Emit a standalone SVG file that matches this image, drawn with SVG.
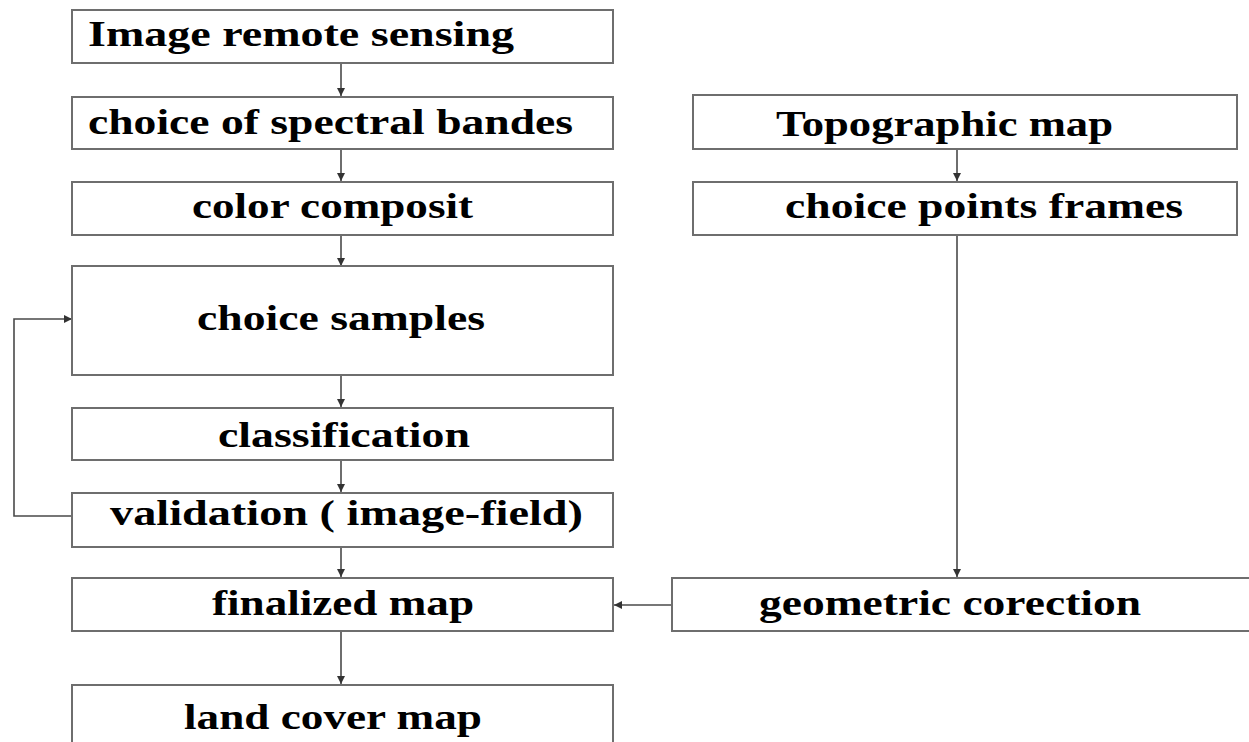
<svg xmlns="http://www.w3.org/2000/svg" width="1249" height="742" viewBox="0 0 1249 742">
<style>
.box{fill:#fff;stroke:#6e6e6e;stroke-width:2}
.t{font-family:"Liberation Serif","DejaVu Serif",serif;font-weight:bold;font-size:35px;fill:#000}
.c{fill:none;stroke:#4a4a4a;stroke-width:1.6}
</style>
<defs>
<marker id="ah" viewBox="0 0 10 10" refX="10" refY="5" markerWidth="8" markerHeight="8" markerUnits="userSpaceOnUse" orient="auto">
<path d="M0,0 L10,5 L0,10 z" fill="#333"/>
</marker>
</defs>
<rect width="1249" height="742" fill="#fff"/>
<g id="connectors">
<line class="c" x1="341" y1="63" x2="341" y2="96" marker-end="url(#ah)"/>
<line class="c" x1="341" y1="149" x2="341" y2="181" marker-end="url(#ah)"/>
<line class="c" x1="341" y1="235" x2="341" y2="266" marker-end="url(#ah)"/>
<line class="c" x1="341" y1="375" x2="341" y2="407" marker-end="url(#ah)"/>
<line class="c" x1="341" y1="460" x2="341" y2="492" marker-end="url(#ah)"/>
<line class="c" x1="341" y1="547" x2="341" y2="577" marker-end="url(#ah)"/>
<line class="c" x1="341" y1="631" x2="341" y2="684" marker-end="url(#ah)"/>
<polyline class="c" points="72,516 14,516 14,319 72,319" marker-end="url(#ah)"/>
<line class="c" x1="957" y1="149" x2="957" y2="181" marker-end="url(#ah)"/>
<line class="c" x1="957" y1="235" x2="957" y2="577" marker-end="url(#ah)"/>
<line class="c" x1="672" y1="605" x2="614" y2="605" marker-end="url(#ah)"/>
</g>
<g id="n1"><rect class="box" x="72" y="10" width="541" height="53"/><text class="t" x="88" y="46" textLength="426" lengthAdjust="spacingAndGlyphs">Image remote  sensing</text></g>
<g id="n2"><rect class="box" x="72" y="97" width="541" height="52"/><text class="t" x="88" y="134" textLength="485" lengthAdjust="spacingAndGlyphs">choice of spectral bandes</text></g>
<g id="n3"><rect class="box" x="72" y="182" width="541" height="53"/><text class="t" x="192" y="218" textLength="281" lengthAdjust="spacingAndGlyphs">color composit</text></g>
<g id="n4"><rect class="box" x="72" y="266" width="541" height="109"/><text class="t" x="197" y="330" textLength="288" lengthAdjust="spacingAndGlyphs">choice samples</text></g>
<g id="n5"><rect class="box" x="72" y="408" width="541" height="52"/><text class="t" x="218" y="447" textLength="252" lengthAdjust="spacingAndGlyphs">classification</text></g>
<g id="n6"><rect class="box" x="72" y="493" width="541" height="54"/><text class="t" x="110" y="525" textLength="473" lengthAdjust="spacingAndGlyphs">validation ( image-field)</text></g>
<g id="n7"><rect class="box" x="72" y="578" width="541" height="53"/><text class="t" x="212" y="615" textLength="262" lengthAdjust="spacingAndGlyphs">finalized map</text></g>
<g id="n8"><path class="box" d="M72,745 V685 H613 V745"/><text class="t" x="184" y="729" textLength="298" lengthAdjust="spacingAndGlyphs">land cover map</text></g>
<g id="n9"><rect class="box" x="693" y="95" width="544" height="54"/><text class="t" x="776" y="136" textLength="337" lengthAdjust="spacingAndGlyphs">Topographic map</text></g>
<g id="n10"><rect class="box" x="693" y="182" width="544" height="53"/><text class="t" x="785" y="218" textLength="398" lengthAdjust="spacingAndGlyphs">choice points frames</text></g>
<g id="n11"><rect class="box" x="672" y="578" width="590" height="53"/><text class="t" x="759" y="615" textLength="382" lengthAdjust="spacingAndGlyphs">geometric corection</text></g>
</svg>
